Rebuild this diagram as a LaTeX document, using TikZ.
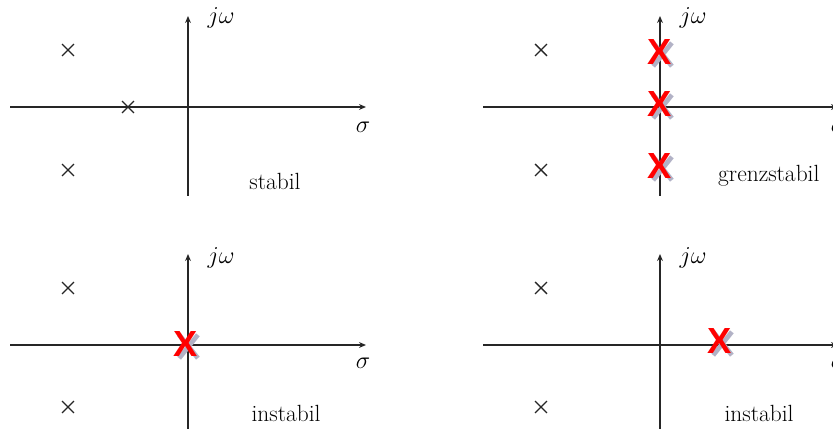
\documentclass[tikz,border=0pt]{standalone}
\usepackage{fontspec}
\newfontfamily\xfont{Liberation Sans}
\usetikzlibrary{shapes.misc,arrows.meta}
\tikzset{
  axis/.style={line width=1.6pt, draw=black!85, -{Stealth[length=6pt,width=5pt]}},
  lbl/.style={font=\fontsize{20}{24}\selectfont, inner sep=0pt},
  pole/.style={draw=black!85, cross out, line width=1.2pt, minimum size=9pt, inner sep=0pt},
  redx/.style={inner sep=0pt, text=red, font=\xfont\bfseries\fontsize{31}{31}\selectfont},
  redxs/.style={draw=blue!25!black!30, cross out, line width=4pt, minimum width=0.42cm, minimum height=0.56cm, inner sep=0pt},
}
\begin{document}
\begin{tikzpicture}[x=0.03cm,y=-0.03cm]
\useasboundingbox (0,0) rectangle (833,429);
% Panel 1
\coordinate (a1l) at (10,107); \coordinate (a1r) at (366,107);
\coordinate (a1b) at (188,196); \coordinate (a1t) at (188,16);
\draw[axis] (a1l) -- (a1r);
\draw[axis] (a1b) -- (a1t);
\node[lbl] (jw1) at (221,18) {$j\omega$};
\node[lbl] (s1) at (363,127) {$\sigma$};
\node[pole] (p11) at (68,50) {};
\node[pole] (p12) at (128,107) {};
\node[pole] (p13) at (68,170) {};
\node[lbl] (t1) at (275,181) {stabil};
% Panel 2
\coordinate (a2l) at (483,107); \coordinate (a2r) at (838,107);
\coordinate (a2b) at (660,196); \coordinate (a2t) at (660,16);
\draw[axis] (a2l) -- (a2r);
\draw[axis] (a2b) -- (a2t);
\node[lbl] (jw2) at (693,18) {$j\omega$};
\node[lbl] (s2) at (838,127) {$\sigma$};
\node[pole] (p21) at (541,50) {};
\node[pole] (p22) at (541,170) {};
\node[redxs] (r21s) at (662.5,54.5) {};
\node[redx] (r21) at (660,52) {X};
\node[redxs] (r22s) at (662.5,106.5) {};
\node[redx] (r22) at (660,104) {X};
\node[redxs] (r23s) at (662.5,168.5) {};
\node[redx] (r23) at (660,166) {X};
\node[lbl, anchor=west] (t2) at (718,176) {grenzstabil};
% Panel 3
\coordinate (a3l) at (10,345); \coordinate (a3r) at (366,345);
\coordinate (a3b) at (188,432); \coordinate (a3t) at (188,254);
\draw[axis] (a3l) -- (a3r);
\draw[axis] (a3b) -- (a3t);
\node[lbl] (jw3) at (221,258) {$j\omega$};
\node[lbl] (s3) at (363,363) {$\sigma$};
\node[pole] (p31) at (68,288) {};
\node[pole] (p32) at (68,407) {};
\node[redxs] (r31s) at (188.5,346.5) {};
\node[redx] (r31) at (186,344) {X};
\node[lbl] (t3) at (286,413) {instabil};
% Panel 4
\coordinate (a4l) at (483,345); \coordinate (a4r) at (838,345);
\coordinate (a4b) at (660,432); \coordinate (a4t) at (660,254);
\draw[axis] (a4l) -- (a4r);
\draw[axis] (a4b) -- (a4t);
\node[lbl] (jw4) at (693,258) {$j\omega$};
\node[lbl] (s4) at (838,363) {$\sigma$};
\node[pole] (p41) at (541,288) {};
\node[pole] (p42) at (541,407) {};
\node[redxs] (r41s) at (722.5,343.5) {};
\node[redx] (r41) at (720,341) {X};
\node[lbl] (t4) at (759,413) {instabil};
\end{tikzpicture}
\end{document}
